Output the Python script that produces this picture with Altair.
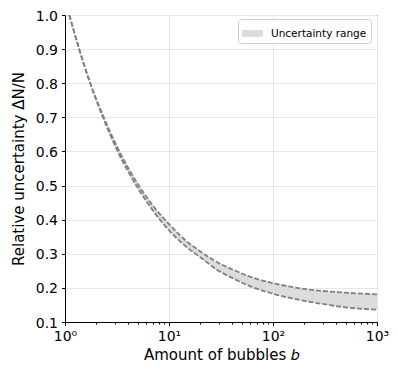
import altair as alt
import pandas as pd

# values
bubbles = [1.1, 1.37, 1.75, 2.3, 3.25, 5.2, 7, 10, 15, 20, 30, 40, 60, 100, 200, 300, 500, 1000]
upper = [1.0, 0.90, 0.80, 0.708, 0.607, 0.497, 0.441, 0.387, 0.335, 0.307, 0.273, 0.255,
         0.233, 0.214, 0.197, 0.191, 0.186, 0.181]
lower = [1.0, 0.899, 0.799, 0.702, 0.597, 0.485, 0.427, 0.369, 0.318, 0.29, 0.25, 0.23,
         0.205, 0.183, 0.162, 0.153, 0.143, 0.136]
x_major = [1, 10, 100, 1000]
x_minor = [2, 3, 4, 5, 6, 7, 8, 9, 20, 30, 40, 50, 60, 70, 80, 90,
           200, 300, 400, 500, 600, 700, 800, 900]
y_ticks = [0.1, 0.2, 0.3, 0.4, 0.5, 0.6, 0.7, 0.8, 0.9, 1.0]
legend_label = "Uncertainty range"

df = pd.DataFrame({"b": bubbles, "upper": upper, "lower": lower, "series": legend_label})

FONT = "DejaVu Sans"
xscale = alt.Scale(type="log", domain=[1, 1000], nice=False)
yscale = alt.Scale(domain=[0.1, 1.0], nice=False, zero=False)

is_major = "datum.value == 1 || datum.value == 10 || datum.value == 100 || datum.value == 1000"

x_axis = alt.Axis(
    values=x_major + x_minor,
    labelExpr="datum.value == 1 ? '10⁰' : datum.value == 10 ? '10¹' : datum.value == 100 ? '10²' : datum.value == 1000 ? '10³' : ''",
    title="Amount of bubbles 𝑏", grid=True, labelFlush=False,
    tickSize={"condition": {"test": is_major, "value": 3.5}, "value": 2},
    gridOpacity={"condition": {"test": is_major, "value": 1}, "value": 0},
    labelPadding=4, titlePadding=4,
)
y_axis = alt.Axis(
    values=y_ticks, format=".1f", title="Relative uncertainty ΔN/N",
    grid=True, tickSize=3.5, labelPadding=4, titlePadding=9, labelFlush=False,
    labelOffset=1,
)

base = alt.Chart(df)

area = base.mark_area(interpolate="monotone", opacity=1, clip=True).encode(
    x=alt.X("b:Q", scale=xscale, axis=x_axis),
    y=alt.Y("lower:Q", scale=yscale, axis=y_axis),
    y2="upper:Q",
    color=alt.Color("series:N", scale=alt.Scale(range=["#dcdcdc"]), legend=alt.Legend(
        title=None, orient="none", legendX=173, legendY=4,
        symbolType="M-1,-0.33L1,-0.33L1,0.33L-1,0.33Z", symbolSize=440,
        symbolStrokeWidth=0, symbolOpacity=1, labelOffset=8,
        labelFontSize=10.5, labelFont=FONT, labelColor="black",
        fillColor="white", strokeColor="#cccccc", cornerRadius=3, padding=4)),
)

lines = base.transform_fold(["upper", "lower"], as_=["k", "v"]).mark_line(
    interpolate="monotone", color="#808080", strokeWidth=1.8, strokeDash=[5, 2], clip=True
).encode(
    x=alt.X("b:Q", scale=xscale, axis=x_axis),
    y=alt.Y("v:Q", scale=yscale, axis=y_axis),
    detail="k:N",
)

chart = alt.layer(area, lines).properties(
    width=312, height=307,
    autosize=alt.AutoSizeParams(type="none"),
    padding={"left": 57, "top": 7, "right": 12, "bottom": 42},
).configure_view(stroke="black", strokeWidth=1).configure_axis(
    labelFont=FONT, titleFont=FONT, labelFontSize=14, titleFontSize=15,
    labelColor="black", titleColor="black", titleFontWeight="normal",
    domainColor="black", tickColor="black", gridColor="#e6e6e6", gridWidth=1,
    domainWidth=1,
)

chart.save("out.html", embed_options={"renderer": "svg", "actions": False})
